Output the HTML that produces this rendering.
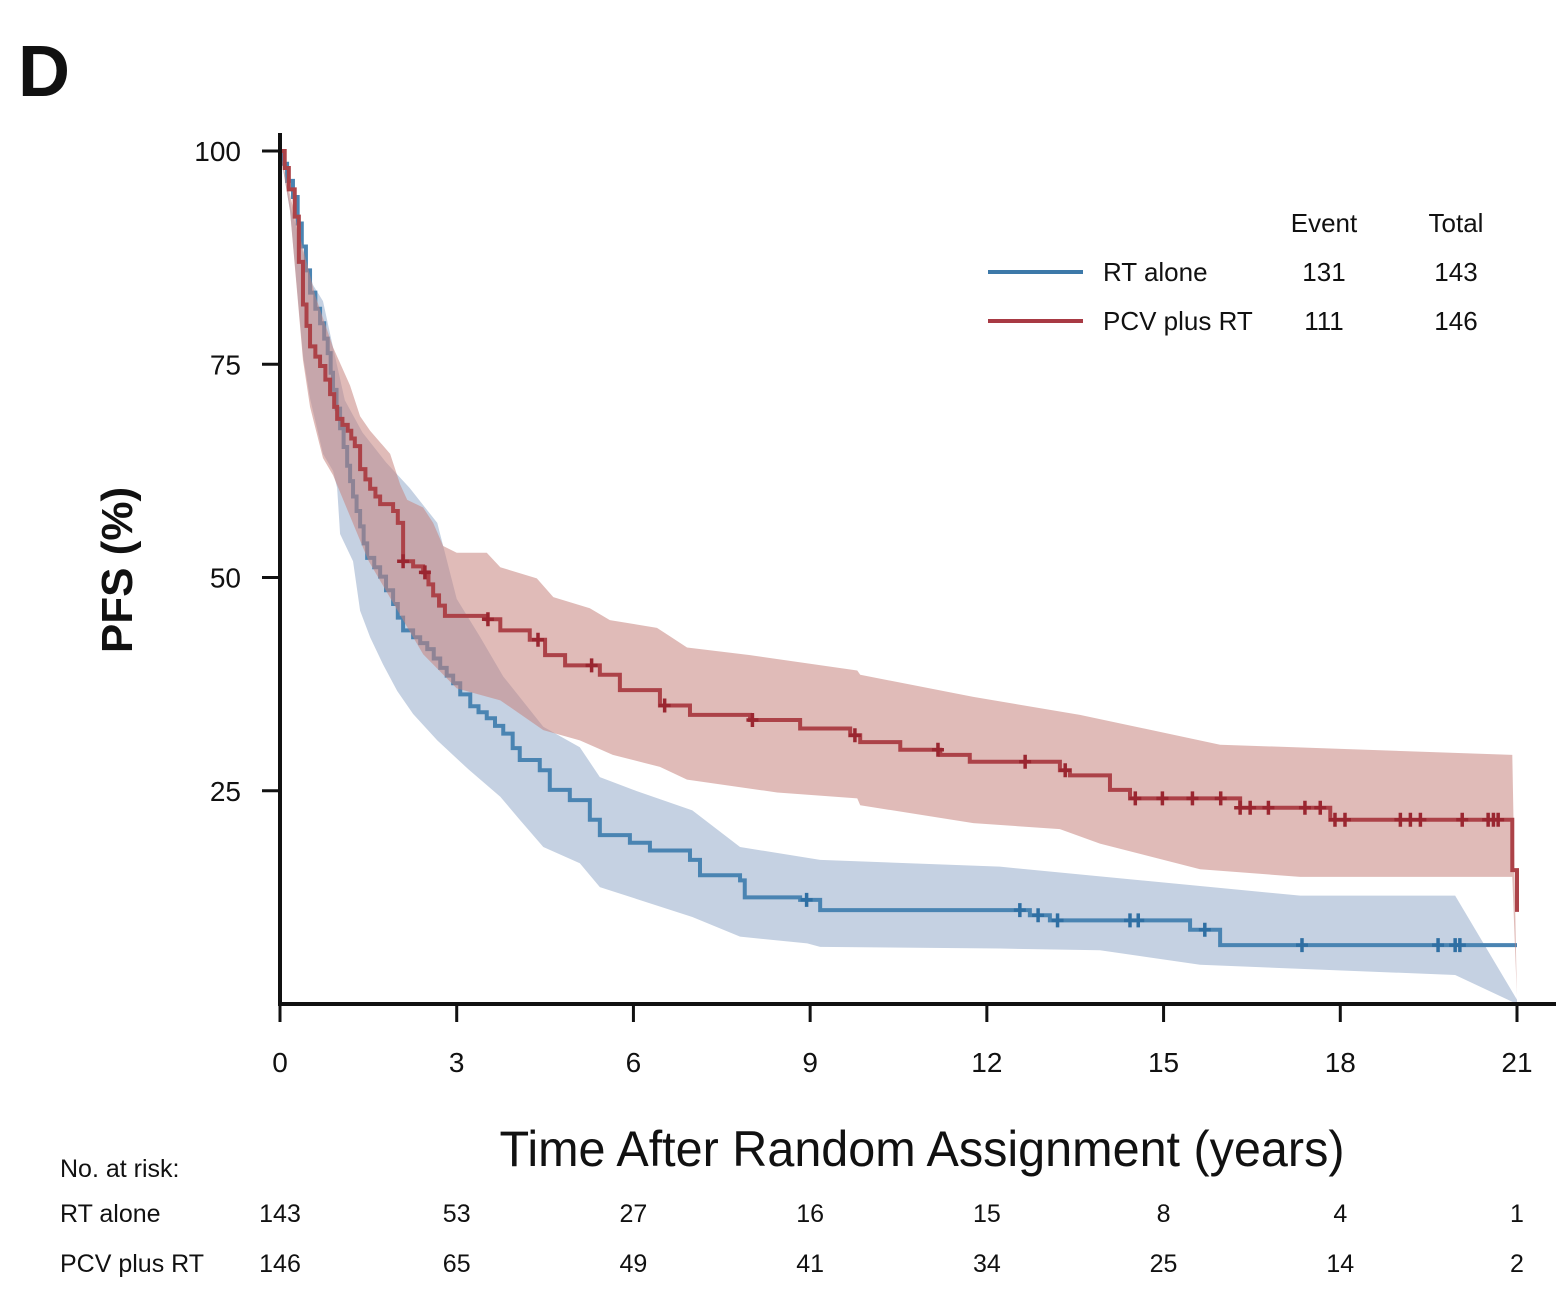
<!DOCTYPE html>
<html><head><meta charset="utf-8"><style>
body{margin:0;background:#fff;}
svg text{font-family:"Liberation Sans",sans-serif;fill:#111;}
</style></head><body>
<svg id="chart" width="1556" height="1292" viewBox="0 0 1556 1292" xmlns="http://www.w3.org/2000/svg">
<text x="18" y="96" font-size="72" font-weight="bold">D</text>
<g id="bands"></g><g id="lines"></g>
<g id="axes"></g>
<text transform="translate(132,570) rotate(-90)" text-anchor="middle" font-size="44" font-weight="bold">PFS (%)</text>
<text x="922" y="1166" text-anchor="middle" font-size="50" textLength="845" lengthAdjust="spacingAndGlyphs">Time After Random Assignment (years)</text>
<g font-size="26">
<text x="1324" y="232" text-anchor="middle">Event</text>
<text x="1456" y="232" text-anchor="middle">Total</text>
<line x1="988" y1="272" x2="1083" y2="272" stroke="#3d79a9" stroke-width="4"/>
<text x="1103" y="281">RT alone</text><text x="1324" y="281" text-anchor="middle">131</text><text x="1456" y="281" text-anchor="middle">143</text>
<line x1="988" y1="321" x2="1083" y2="321" stroke="#a83a44" stroke-width="4"/>
<text x="1103" y="330">PCV plus RT</text><text x="1324" y="330" text-anchor="middle">111</text><text x="1456" y="330" text-anchor="middle">146</text>
</g>
<g id="risk" font-size="25"></g>
</svg>
<script>
const xTicks=[0,3,6,9,12,15,18,21];
const yTicks=[25,50,75,100];
const riskRT=[143,53,27,16,15,8,4,1];
const riskPCV=[146,65,49,41,34,25,14,2];
const rtT=[0,0.05,0.12,0.22,0.30,0.37,0.44,0.51,0.6,0.68,0.75,0.81,0.86,0.90,0.96,1.02,1.08,1.14,1.19,1.24,1.30,1.36,1.42,1.48,1.6,1.70,1.8,1.92,2.0,2.09,2.26,2.38,2.50,2.61,2.72,2.83,2.94,3.06,3.23,3.37,3.51,3.65,3.79,3.95,4.07,4.41,4.58,4.92,5.26,5.43,5.94,6.28,6.96,7.13,7.81,7.89,8.83,9.17,12.73,13.07,15.45,15.96];
const rtV=[100,98.5,96.5,94.6,91.5,88.8,86,83.4,81.5,79.8,78,76.3,74,72,69.8,67.5,65.3,63.1,61.3,59.5,57.8,56,54,52.3,51.2,50.1,48.5,46.9,45.3,43.8,43,42.3,41.6,40.5,39.4,38.5,37.6,36.3,34.9,34.2,33.5,32.6,31.7,30,28.6,27.4,25.1,23.9,21.6,19.8,18.9,18,16.9,15.1,14.5,12.5,12.2,11,10.4,9.8,8.7,6.9];
const pcvT=[0,0.08,0.15,0.25,0.32,0.39,0.45,0.51,0.6,0.68,0.77,0.85,0.92,0.97,1.06,1.15,1.21,1.27,1.36,1.45,1.53,1.62,1.70,1.92,2.0,2.09,2.26,2.43,2.52,2.60,2.70,2.80,3.51,3.74,4.24,4.50,4.84,5.43,5.77,6.45,6.96,7.98,8.83,9.68,9.85,10.53,11.21,11.71,13.24,13.41,14.09,14.43,16.30,17.83,20.92,21];
const pcvV=[100,98,95.5,92.3,87,82,79.5,77.1,75.9,74.8,73.2,71.5,70,68.6,67.9,67.2,66.3,65.4,62.7,61.5,60.4,59.5,58.6,57.8,56.4,51.9,51.3,50.6,49.2,47.9,46.7,45.5,45.1,43.8,42.7,40.9,39.7,38.6,36.8,35.0,33.9,33.3,32.3,31.5,30.7,29.8,29.2,28.4,27.4,26.8,25.1,24.1,23.0,21.6,15.7,10.8];
const rtCens=[8.94,12.56,12.87,13.2,14.43,14.57,15.7,17.35,19.66,19.95,20.03];
const pcvCens=[2.09,2.46,3.53,4.38,5.29,6.53,8.02,9.76,11.17,12.65,13.33,14.52,14.98,15.49,15.97,16.3,16.47,16.78,17.4,17.66,17.91,18.08,19.02,19.19,19.36,20.07,20.51,20.6,20.68];
const rtUpT=[0,0.2,0.39,0.56,0.73,0.90,1.10,1.4,1.8,2.2,2.67,3.0,3.4,3.79,4.47,5.09,5.43,6.0,7.0,7.81,9.17,12.22,17.32,19.95,21];
const rtUpV=[100,93,88.2,84.3,82.4,77,70.8,67,63.5,60.5,56.4,47.5,43,38.4,32.5,30.1,26.6,25.1,22.7,18.4,16.9,16.1,12.7,12.7,0.5];
const rtLoT=[0,0.17,0.39,0.51,0.73,0.90,0.97,1.02,1.24,1.36,1.53,1.75,1.99,2.26,2.67,3.2,3.74,4.07,4.47,5.09,5.43,7.0,7.81,8.95,9.17,12.22,13.92,15.62,19.95,21];
const rtLoV=[100,93,76,71,64.5,62.5,60.5,55.1,51.9,46.1,43,39.8,36.7,34,30.9,27.5,24.3,21.6,18.4,16.5,13.7,10.2,7.9,7.1,6.7,6.5,6.3,4.6,3.4,0];
const pcvUpT=[0,0.3,0.6,0.9,1.19,1.36,1.53,1.87,2.04,2.16,2.43,2.60,2.77,3.0,3.51,3.74,4.36,4.64,5.26,5.60,6.4,6.91,7.98,9.80,9.85,11.77,13.58,15.96,20.92,21];
const pcvUpV=[100,91,83,77,72.5,68.9,67.2,64.5,60.9,59.1,58.2,56.4,53.7,52.9,52.9,51.2,49.9,47.7,46.4,45,44.1,41.8,40.9,39.1,38.6,36,33.9,30.4,29.2,0];
const pcvLoT=[0,0.17,0.39,0.51,0.73,0.9,1.2,1.5,2.09,2.43,3.0,3.74,4.47,5.09,5.65,6.45,6.91,8.44,9.80,9.85,11.77,13.24,13.92,15.62,17.32,20.92,21];
const pcvLoV=[100,93,75.5,70,64,62,57,52,45,41,37,35.6,32.1,30.9,29.2,27.8,26.3,24.8,24.1,23.3,21.2,20.5,18.8,15.8,14.9,14.9,0.5];

const X=t=>280+t*(1237/21), Y=v=>1004-v*(853/100);
const NS="http://www.w3.org/2000/svg";
function mk(tag,attrs,parent){const e=document.createElementNS(NS,tag);for(const k in attrs)e.setAttribute(k,attrs[k]);parent.appendChild(e);return e;}
function stepPath(T,V){let d=`M${X(T[0])},${Y(V[0])}`;for(let i=1;i<T.length;i++){d+=`H${X(T[i])}V${Y(V[i])}`;}return d;}
function bandPath(uT,uV,lT,lV){let d=`M${X(uT[0])},${Y(uV[0])}`;for(let i=1;i<uT.length;i++)d+=`L${X(uT[i])},${Y(uV[i])}`;for(let i=lT.length-1;i>=0;i--)d+=`L${X(lT[i])},${Y(lV[i])}`;return d+'Z';}
function valAt(T,V,t){let v=V[0];for(let i=0;i<T.length;i++)if(T[i]<=t)v=V[i];return v;}
const bands=document.getElementById('bands'),lines=document.getElementById('lines'),axes=document.getElementById('axes'),risk=document.getElementById('risk');

let e=mk('path',{d:bandPath(rtUpT,rtUpV,rtLoT,rtLoV),fill:'#c5d1e2'},bands);


e=mk('path',{d:stepPath(rtT,rtV)+`H${X(21)}`,fill:'none',stroke:'#4a84b2','stroke-width':4},bands);


for(const t of rtCens){const x=X(t),y=Y(valAt(rtT,rtV,t));
 e=mk('path',{d:`M${x-6},${y}H${x+6}M${x},${y-7}V${y+7}`,stroke:'#2f6fa3','stroke-width':3.5},bands);
 
 }
e=mk('path',{d:bandPath(pcvUpT,pcvUpV,pcvLoT,pcvLoV),fill:'rgb(199,131,126)','fill-opacity':0.55},lines);


e=mk('path',{d:stepPath(pcvT,pcvV),fill:'none',stroke:'#ac4248','stroke-width':4},lines);


for(const t of pcvCens){const x=X(t),y=Y(valAt(pcvT,pcvV,t));
 e=mk('path',{d:`M${x-6},${y}H${x+6}M${x},${y-7}V${y+7}`,stroke:'#9a2630','stroke-width':3.5},lines);
 
 }

e=mk('path',{d:'M280,133V1004H1556',fill:'none',stroke:'#111','stroke-width':4},axes);


for(const v of yTicks){const y=Y(v);
 e=mk('line',{x1:262,x2:280,y1:y,y2:y,stroke:'#111','stroke-width':3},axes);
 
 
 e=mk('text',{x:241,y:y+10,'text-anchor':'end','font-size':28},axes);e.textContent=v;
 
 }
xTicks.forEach((t,i)=>{const x=X(t);
 e=mk('line',{x1:x,x2:x,y1:1004,y2:1022,stroke:'#111','stroke-width':3},axes);
 
 
 e=mk('text',{x:x,y:1072,'text-anchor':'middle','font-size':28},axes);e.textContent=t;
 
 
 e=mk('text',{x:x,y:1222,'text-anchor':'middle'},risk);e.textContent=riskRT[i];
 
 
 e=mk('text',{x:x,y:1272,'text-anchor':'middle'},risk);e.textContent=riskPCV[i];
 
 
});
[['No. at risk:',1177,'risk-title'],['RT alone',1222,'risk-row-rt'],['PCV plus RT',1272,'risk-row-pcv']].forEach(r=>{
 e=mk('text',{x:60,y:r[1]},risk);e.textContent=r[0];
 
 });
</script>
</body></html>
